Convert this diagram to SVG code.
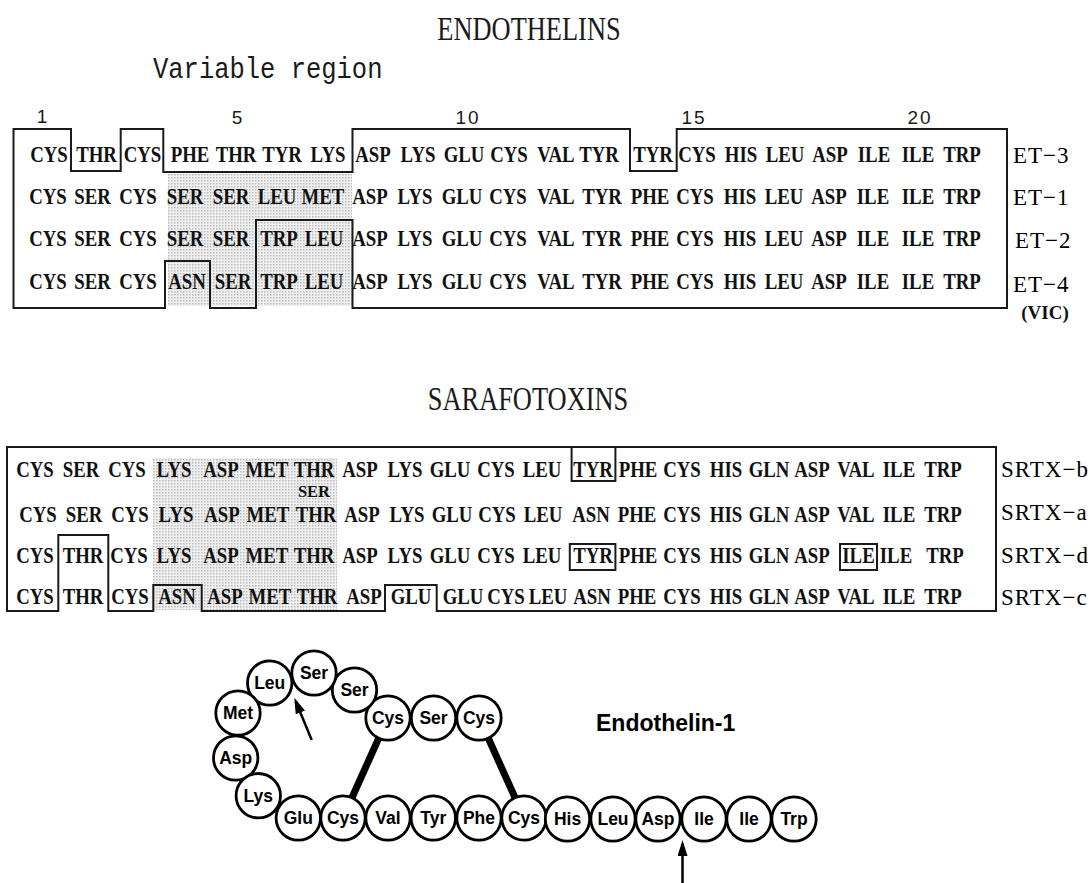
<svg xmlns="http://www.w3.org/2000/svg" width="1091" height="883" viewBox="0 0 1091 883">
<defs>
<style>
.title{font-family:"Liberation Serif",serif;font-size:33px;fill:#1a1a1a}
.mono{font-family:"Liberation Mono",monospace;font-size:30px;fill:#1a1a1a}
.num{font-family:"Liberation Sans",sans-serif;font-size:19px;letter-spacing:2px;fill:#1a1a1a;text-anchor:middle}
.seq{font-family:"Liberation Serif",serif;font-size:23.5px;font-weight:bold;fill:#111;text-anchor:middle}
.sup{font-family:"Liberation Serif",serif;font-size:16.5px;font-weight:bold;fill:#111;text-anchor:middle}
.lab{font-family:"Liberation Serif",serif;font-size:23px;letter-spacing:1px;fill:#000}
.vic{font-family:"Liberation Serif",serif;font-size:19px;font-weight:bold;fill:#111;text-anchor:middle}
.box{fill:none;stroke:#1a1a1a;stroke-width:2}
.res circle{fill:#fff;stroke:#000;stroke-width:2.8}
.res text{font-family:"Liberation Sans",sans-serif;font-size:17.5px;font-weight:bold;text-anchor:middle;fill:#000}
.ss{stroke:#000;stroke-width:7}
.arr{stroke:#000;stroke-width:2.5;fill:none;marker-end:url(#ah)}
.ename{font-family:"Liberation Sans",sans-serif;font-size:23px;font-weight:bold;fill:#000}
</style>
<pattern id="st" width="3" height="3" patternUnits="userSpaceOnUse"><rect width="3" height="3" fill="#f0f0f0"/><rect width="1.5" height="1.5" fill="#bababa"/></pattern>
<marker id="ah" viewBox="0 0 16 10" refX="12" refY="5" markerWidth="16" markerHeight="10" markerUnits="userSpaceOnUse" orient="auto"><path d="M0,0 L16,5 L0,10 Z" fill="#000"/></marker>
</defs>
<rect width="1091" height="883" fill="#fff"/>

<g id="endothelins">
<text class="title" transform="translate(529 40) scale(0.8 1)" text-anchor="middle">ENDOTHELINS</text>
<text class="mono" transform="translate(153 78) scale(0.85 1)">Variable region</text>
<g id="positions">
<text class="num" x="43" y="123">1</text>
<text class="num" x="238" y="124">5</text>
<text class="num" x="468" y="124">10</text>
<text class="num" x="694" y="124">15</text>
<text class="num" x="920" y="124">20</text>
</g>
<rect x="168" y="174" width="184" height="132" fill="url(#st)"/>
<path class="box" d="M13.5,129 H71 V171 H120.7 V129 H163.3 V172 H352.5 V129 H630 V171 H676.7 V129 H1007 V308 H352.5 V220 H256 V308 H210 V261 H165 V308 H13.5 Z"/>
<text class="seq" transform="translate(0 162) scale(0.8 1)"><tspan x="61.25">CYS</tspan><tspan x="120.63">THR</tspan><tspan x="178.13">CYS</tspan><tspan x="237.5">PHE</tspan><tspan x="295">THR</tspan><tspan x="352.5">TYR</tspan><tspan x="410">LYS</tspan><tspan x="466.25">ASP</tspan><tspan x="522.5">LYS</tspan><tspan x="580">GLU</tspan><tspan x="636.25">CYS</tspan><tspan x="695">VAL</tspan><tspan x="748.75">TYR</tspan><tspan x="816.25">TYR</tspan><tspan x="871.25">CYS</tspan><tspan x="926.25">HIS</tspan><tspan x="981.25">LEU</tspan><tspan x="1037.5">ASP</tspan><tspan x="1092.5">ILE</tspan><tspan x="1147.5">ILE</tspan><tspan x="1202.5">TRP</tspan></text>
<text class="seq" transform="translate(0 204) scale(0.8 1)"><tspan x="60">CYS</tspan><tspan x="115.63">SER</tspan><tspan x="172.5">CYS</tspan><tspan x="231.25">SER</tspan><tspan x="288.75">SER</tspan><tspan x="346.25">LEU</tspan><tspan x="403.75">MET</tspan><tspan x="462.5">ASP</tspan><tspan x="518.75">LYS</tspan><tspan x="577.5">GLU</tspan><tspan x="635">CYS</tspan><tspan x="695">VAL</tspan><tspan x="752.5">TYR</tspan><tspan x="812.5">PHE</tspan><tspan x="868.75">CYS</tspan><tspan x="925">HIS</tspan><tspan x="980">LEU</tspan><tspan x="1036.25">ASP</tspan><tspan x="1091.25">ILE</tspan><tspan x="1147.5">ILE</tspan><tspan x="1202.5">TRP</tspan></text>
<text class="seq" transform="translate(0 246) scale(0.8 1)"><tspan x="60">CYS</tspan><tspan x="115.63">SER</tspan><tspan x="172.5">CYS</tspan><tspan x="231.25">SER</tspan><tspan x="288.75">SER</tspan><tspan x="348.75">TRP</tspan><tspan x="405">LEU</tspan><tspan x="462.5">ASP</tspan><tspan x="518.75">LYS</tspan><tspan x="577.5">GLU</tspan><tspan x="635">CYS</tspan><tspan x="695">VAL</tspan><tspan x="752.5">TYR</tspan><tspan x="812.5">PHE</tspan><tspan x="868.75">CYS</tspan><tspan x="925">HIS</tspan><tspan x="980">LEU</tspan><tspan x="1036.25">ASP</tspan><tspan x="1091.25">ILE</tspan><tspan x="1147.5">ILE</tspan><tspan x="1202.5">TRP</tspan></text>
<text class="seq" transform="translate(0 289) scale(0.8 1)"><tspan x="60">CYS</tspan><tspan x="115.63">SER</tspan><tspan x="172.5">CYS</tspan><tspan x="233.75">ASN</tspan><tspan x="291.25">SER</tspan><tspan x="348.75">TRP</tspan><tspan x="405">LEU</tspan><tspan x="462.5">ASP</tspan><tspan x="518.75">LYS</tspan><tspan x="577.5">GLU</tspan><tspan x="635">CYS</tspan><tspan x="695">VAL</tspan><tspan x="752.5">TYR</tspan><tspan x="812.5">PHE</tspan><tspan x="868.75">CYS</tspan><tspan x="925">HIS</tspan><tspan x="980">LEU</tspan><tspan x="1036.25">ASP</tspan><tspan x="1091.25">ILE</tspan><tspan x="1147.5">ILE</tspan><tspan x="1202.5">TRP</tspan></text>
<text class="lab" x="1013" y="163">ET−3</text>
<text class="lab" x="1013" y="205">ET−1</text>
<text class="lab" x="1015" y="248">ET−2</text>
<text class="lab" x="1013" y="292">ET−4</text>
<text class="vic" x="1045" y="319">(VIC)</text>
</g>

<g id="sarafotoxins">
<text class="title" transform="translate(528 410) scale(0.8 1)" text-anchor="middle">SARAFOTOXINS</text>
<rect x="153" y="458" width="184" height="152" fill="url(#st)"/>
<path class="box" d="M7,447 H996 V611 H436.7 V585 H385 V611 H201.7 V585 H153.3 V611 H108.3 V535 H58.3 V611 H7 Z"/>
<path class="box" d="M571.6,447 V481 H615.4 V447"/>
<rect class="box" x="569.8" y="544" width="45.6" height="26"/>
<rect class="box" x="840" y="544" width="37" height="26"/>
<text class="seq" transform="translate(0 477) scale(0.8 1)"><tspan x="43.75">CYS</tspan><tspan x="101.25">SER</tspan><tspan x="158.75">CYS</tspan><tspan x="217.5">LYS</tspan><tspan x="276.25">ASP</tspan><tspan x="333.75">MET</tspan><tspan x="392.5">THR</tspan><tspan x="450">ASP</tspan><tspan x="506.25">LYS</tspan><tspan x="562.5">GLU</tspan><tspan x="620">CYS</tspan><tspan x="677.5">LEU</tspan><tspan x="741.25">TYR</tspan><tspan x="797.5">PHE</tspan><tspan x="852.5">CYS</tspan><tspan x="907.5">HIS</tspan><tspan x="961.25">GLN</tspan><tspan x="1015">ASP</tspan><tspan x="1070">VAL</tspan><tspan x="1123.75">ILE</tspan><tspan x="1178.75">TRP</tspan></text>
<text class="sup" x="314" y="497">SER</text>
<text class="seq" transform="translate(0 522) scale(0.8 1)"><tspan x="47.5">CYS</tspan><tspan x="105">SER</tspan><tspan x="162.5">CYS</tspan><tspan x="220">LYS</tspan><tspan x="277.5">ASP</tspan><tspan x="335">MET</tspan><tspan x="395">THR</tspan><tspan x="452.5">ASP</tspan><tspan x="508.75">LYS</tspan><tspan x="565">GLU</tspan><tspan x="621.25">CYS</tspan><tspan x="678.75">LEU</tspan><tspan x="738.75">ASN</tspan><tspan x="796.25">PHE</tspan><tspan x="852.5">CYS</tspan><tspan x="907.5">HIS</tspan><tspan x="961.25">GLN</tspan><tspan x="1015">ASP</tspan><tspan x="1070">VAL</tspan><tspan x="1123.75">ILE</tspan><tspan x="1178.75">TRP</tspan></text>
<text class="seq" transform="translate(0 563) scale(0.8 1)"><tspan x="43.75">CYS</tspan><tspan x="103.75">THR</tspan><tspan x="161.25">CYS</tspan><tspan x="217.5">LYS</tspan><tspan x="276.25">ASP</tspan><tspan x="333.75">MET</tspan><tspan x="392.5">THR</tspan><tspan x="450">ASP</tspan><tspan x="506.25">LYS</tspan><tspan x="562.5">GLU</tspan><tspan x="620">CYS</tspan><tspan x="677.5">LEU</tspan><tspan x="741.25">TYR</tspan><tspan x="797.5">PHE</tspan><tspan x="852.5">CYS</tspan><tspan x="907.5">HIS</tspan><tspan x="961.25">GLN</tspan><tspan x="1015">ASP</tspan><tspan x="1073.13">ILE</tspan><tspan x="1120">ILE</tspan><tspan x="1181.25">TRP</tspan></text>
<text class="seq" transform="translate(0 604) scale(0.8 1)"><tspan x="43.75">CYS</tspan><tspan x="103.75">THR</tspan><tspan x="162.5">CYS</tspan><tspan x="221.25">ASN</tspan><tspan x="281.25">ASP</tspan><tspan x="337.5">MET</tspan><tspan x="396.25">THR</tspan><tspan x="455">ASP</tspan><tspan x="513.75">GLU</tspan><tspan x="578.75">GLU</tspan><tspan x="632.5">CYS</tspan><tspan x="685">LEU</tspan><tspan x="740">ASN</tspan><tspan x="796.25">PHE</tspan><tspan x="852.5">CYS</tspan><tspan x="907.5">HIS</tspan><tspan x="961.25">GLN</tspan><tspan x="1015">ASP</tspan><tspan x="1070">VAL</tspan><tspan x="1123.75">ILE</tspan><tspan x="1178.75">TRP</tspan></text>
<text class="lab" x="1001" y="477">SRTX−b</text>
<text class="lab" x="1001" y="520">SRTX−a</text>
<text class="lab" x="1001" y="563">SRTX−d</text>
<text class="lab" x="1001" y="605">SRTX−c</text>
</g>

<g id="connectors">
<line class="ss" x1="386" y1="722" x2="346" y2="811"/>
<line class="ss" x1="481" y1="722" x2="521" y2="811"/>
<line class="arr" x1="311.7" y1="740" x2="295.8" y2="701.4"/>
<line class="arr" x1="682.5" y1="883" x2="682.5" y2="844"/>
</g>

<g id="endothelin1">
<g id="r1" class="res"><circle cx="388" cy="718" r="22.2"/><text x="388" y="724">Cys</text></g>
<g id="r2" class="res"><circle cx="433.5" cy="718" r="22.2"/><text x="433.5" y="724">Ser</text></g>
<g id="r3" class="res"><circle cx="479" cy="718" r="22.2"/><text x="479" y="724">Cys</text></g>
<g id="r4" class="res"><circle cx="354.5" cy="690" r="22.2"/><text x="354.5" y="696">Ser</text></g>
<g id="r5" class="res"><circle cx="314" cy="673" r="22.2"/><text x="314" y="679">Ser</text></g>
<g id="r6" class="res"><circle cx="269.7" cy="683" r="22.2"/><text x="269.7" y="689">Leu</text></g>
<g id="r7" class="res"><circle cx="238" cy="713" r="22.2"/><text x="238" y="719">Met</text></g>
<g id="r8" class="res"><circle cx="235.7" cy="758" r="22.2"/><text x="235.7" y="764">Asp</text></g>
<g id="r9" class="res"><circle cx="258.3" cy="795.7" r="22.2"/><text x="258.3" y="801.7">Lys</text></g>
<g id="r10" class="res"><circle cx="298.3" cy="818" r="22.2"/><text x="298.3" y="824">Glu</text></g>
<g id="r11" class="res"><circle cx="343" cy="818" r="22.2"/><text x="343" y="824">Cys</text></g>
<g id="r12" class="res"><circle cx="388" cy="818" r="22.2"/><text x="388" y="824">Val</text></g>
<g id="r13" class="res"><circle cx="433.3" cy="818" r="22.2"/><text x="433.3" y="824">Tyr</text></g>
<g id="r14" class="res"><circle cx="479" cy="818" r="22.2"/><text x="479" y="824">Phe</text></g>
<g id="r15" class="res"><circle cx="524" cy="818" r="22.2"/><text x="524" y="824">Cys</text></g>
<g id="r16" class="res"><circle cx="567.5" cy="819" r="22.2"/><text x="567.5" y="825">His</text></g>
<g id="r17" class="res"><circle cx="613" cy="819" r="22.2"/><text x="613" y="825">Leu</text></g>
<g id="r18" class="res"><circle cx="658" cy="819" r="22.2"/><text x="658" y="825">Asp</text></g>
<g id="r19" class="res"><circle cx="704" cy="819" r="22.2"/><text x="704" y="825">Ile</text></g>
<g id="r20" class="res"><circle cx="749" cy="819" r="22.2"/><text x="749" y="825">Ile</text></g>
<g id="r21" class="res"><circle cx="794" cy="819" r="22.2"/><text x="794" y="825">Trp</text></g>
<text class="ename" x="596" y="731">Endothelin-1</text>
</g>
</svg>
